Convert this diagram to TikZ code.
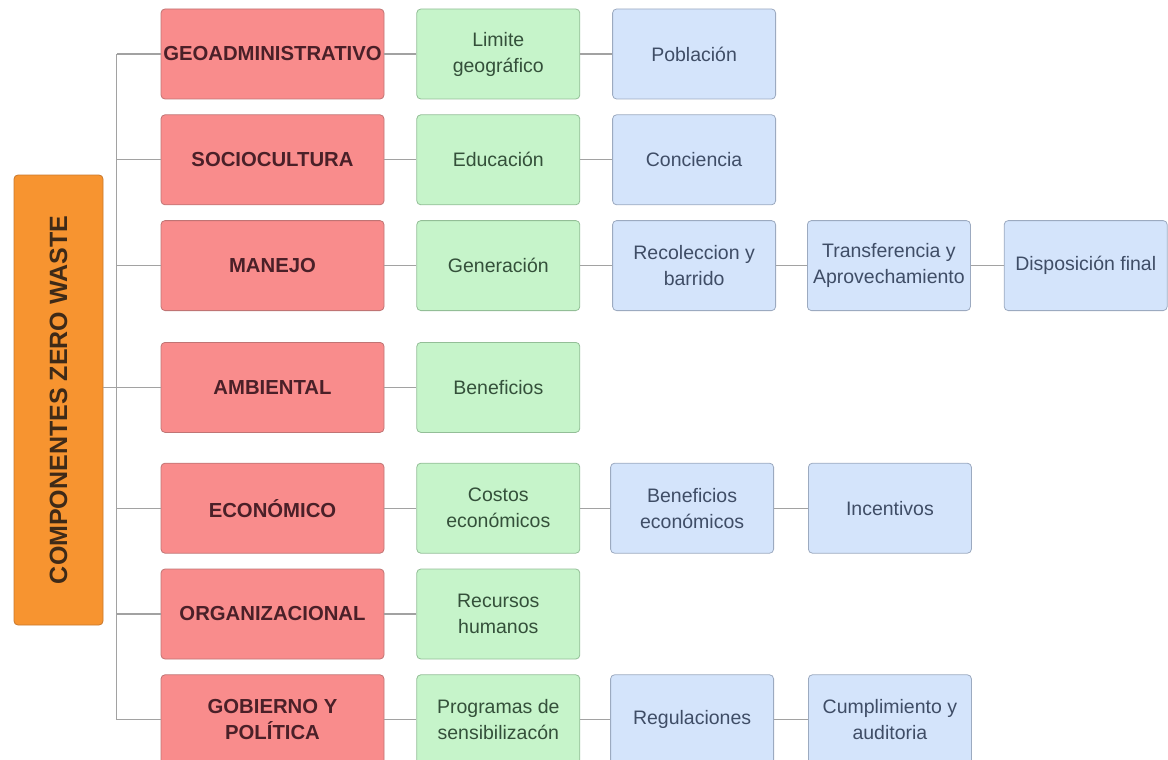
\documentclass[tikz,border=0pt]{standalone}
\usepackage{fontspec}
\setmainfont{Liberation Sans}
\usetikzlibrary{positioning}

\definecolor{rootFill}{HTML}{F79430}
\definecolor{rootLine}{HTML}{C9782C}
\definecolor{rootText}{HTML}{3E2A18}
\definecolor{compFill}{HTML}{F98C8C}
\definecolor{compLine}{HTML}{C07474}
\definecolor{compText}{HTML}{4A2028}
\definecolor{subFill}{HTML}{C6F4CA}
\definecolor{subLine}{HTML}{93BE97}
\definecolor{subText}{HTML}{34503A}
\definecolor{itemFill}{HTML}{D4E4FB}
\definecolor{itemLine}{HTML}{9CAAC0}
\definecolor{itemText}{HTML}{3F4D66}
\definecolor{linkGray}{HTML}{A2A2A2}

\tikzset{
    box/.style={draw, rounded corners=4pt, line width=0.8pt, minimum height=90pt,
        align=center, inner sep=2pt, font=\fontsize{19.5}{26}\selectfont},
    rootbox/.style={box, fill=rootFill, draw=rootLine, text=rootText,
        minimum width=450pt, minimum height=89pt, font=\fontsize{25}{30}\selectfont\bfseries},
    comp/.style={box, fill=compFill, draw=compLine, text=compText,
        minimum width=223pt, font=\fontsize{20.3}{26}\selectfont\bfseries},
    sub/.style={box, fill=subFill, draw=subLine, text=subText, minimum width=163pt},
    item/.style={box, fill=itemFill, draw=itemLine, text=itemText, minimum width=163pt},
    link/.style={draw=linkGray, line width=1.1pt},
}

\begin{document}
\begin{tikzpicture}[x=1pt,y=1pt]
    \useasboundingbox (0,0) rectangle (1168,-760);
    \node[rootbox, rotate=90] (zw) at (58.5,-400) {COMPONENTES ZERO WASTE};
    \node[comp] (geo) at (272.5,-54) {GEOADMINISTRATIVO};
    \node[comp, below=15pt of geo] (soc) {SOCIOCULTURA};
    \node[comp, below=15pt of soc] (man) {MANEJO};
    \node[comp, below=31pt of man] (amb) {AMBIENTAL};
    \node[comp, below=30pt of amb] (eco) {ECONÓMICO};
    \node[comp, below=15pt of eco] (org) {ORGANIZACIONAL};
    \node[comp, below=15pt of org] (gob) {GOBIERNO Y\\POLÍTICA};
    \node[sub, right=32pt of geo] (lim) {Limite\\geográfico};
    \node[sub, right=32pt of soc] (edu) {Educación};
    \node[sub, right=32pt of man] (gen) {Generación};
    \node[sub, right=32pt of amb] (ben) {Beneficios};
    \node[sub, right=32pt of eco] (cos) {Costos\\económicos};
    \node[sub, right=32pt of org] (rec) {Recursos\\humanos};
    \node[sub, right=32pt of gob] (pro) {Programas de\\sensibilizacón};
    \node[item, right=32pt of lim] (pob) {Población};
    \node[item, right=32pt of edu] (con) {Conciencia};
    \node[item, right=32pt of gen] (rb) {Recoleccion y\\barrido};
    \node[item, right=31pt of rb] (ta) {Transferencia y\\Aprovechamiento};
    \node[item, right=33pt of ta] (df) {Disposición final};
    \node[item, right=30pt of cos] (be) {Beneficios\\económicos};
    \node[item, right=34pt of be] (inc) {Incentivos};
    \node[item, right=30pt of pro] (reg) {Regulaciones};
    \node[item, right=34pt of reg] (cum) {Cumplimiento y\\auditoria};
    \coordinate[left=44pt of geo.west] (t1);
    \coordinate[left=44pt of gob.west] (t7);
    \draw[link] (t1) -- (t7);
    \foreach \c in {geo,soc,man,amb,eco,org,gob}
        \draw[link] (\c.west) -- (\c.west -| t1);
    \draw[link] (zw.south |- amb.west) -- (amb.west -| t1);
    \foreach \a/\b in {geo/lim,soc/edu,man/gen,amb/ben,eco/cos,org/rec,gob/pro,
        lim/pob,edu/con,gen/rb,rb/ta,ta/df,cos/be,be/inc,pro/reg,reg/cum}
        \draw[link] (\a) -- (\b);
\end{tikzpicture}
\end{document}
